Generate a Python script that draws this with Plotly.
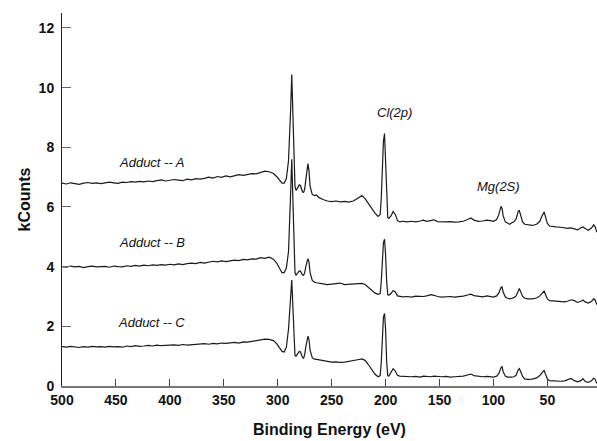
import plotly.graph_objects as go

# Shared binding-energy grid (eV), descending
energy = [
    500, 496, 492, 488, 484, 480, 476, 472, 468, 464,
    460, 456, 452, 448, 444, 440, 436, 432, 428, 424,
    420, 416, 412, 408, 404, 400, 396, 392, 388, 384,
    380, 376, 372, 368, 364, 360, 356, 352, 348, 344,
    340, 336, 332, 328, 324, 320, 316, 312, 308, 304,
    301, 298, 296, 294, 292, 290, 289, 288, 287, 286,
    285, 284, 283, 282, 281, 280, 279, 278, 277, 276,
    275, 274, 273, 272, 271, 270, 268, 266, 264, 262,
    258, 254, 250, 246, 242, 238, 234, 230, 226, 222,
    219, 216, 213, 210, 207, 205, 204, 203, 202, 201,
    200, 199, 198, 197, 195, 193, 191, 189, 187, 184,
    180, 176, 172, 168, 165, 162, 158, 155, 152, 148,
    144, 140, 136, 132, 128, 124, 121, 118, 114, 110,
    106, 103, 100, 97, 95, 93, 92, 91, 89, 87,
    85, 83, 81, 79, 77, 76, 75, 73, 71, 68,
    64, 60, 57, 55, 54, 53, 52, 50, 48, 45,
    42, 38, 34, 31, 28, 25, 22, 19, 17, 15,
    12, 9, 7, 6, 5, 4,
]

adduct_a = [
    6.80, 6.77, 6.81, 6.79, 6.76, 6.80, 6.82, 6.79, 6.81, 6.78,
    6.80, 6.83, 6.81, 6.79, 6.83, 6.82, 6.85, 6.83, 6.86, 6.84,
    6.87, 6.85, 6.88, 6.91, 6.87, 6.89, 6.92, 6.90, 6.88, 6.93,
    6.91, 6.95, 6.93, 6.96, 7.00, 6.97, 7.02, 6.99, 7.04, 7.01,
    7.05, 7.08, 7.06, 7.10, 7.12, 7.11, 7.16, 7.20, 7.18, 7.12,
    7.02, 6.90, 6.80, 6.80, 6.95, 7.55, 8.30, 9.30, 10.44, 9.00,
    7.60, 6.70, 6.55, 6.60, 6.68, 6.74, 6.72, 6.60, 6.50, 6.49,
    6.60, 6.90, 7.30, 7.45, 7.20, 6.70, 6.42, 6.38, 6.40, 6.32,
    6.25, 6.20, 6.18, 6.20, 6.17, 6.19, 6.16, 6.20, 6.28, 6.38,
    6.28, 6.12, 5.95, 5.80, 5.68, 5.75, 6.30, 7.30, 8.20, 8.46,
    7.60, 6.20, 5.65, 5.62, 5.70, 5.85, 5.75, 5.55, 5.50, 5.52,
    5.50, 5.52, 5.50, 5.53, 5.56, 5.52, 5.55, 5.57, 5.51, 5.50,
    5.50, 5.51, 5.49, 5.50, 5.52, 5.58, 5.63, 5.56, 5.52, 5.53,
    5.56, 5.54, 5.52, 5.58, 5.75, 6.02, 5.95, 5.70, 5.50, 5.46,
    5.42, 5.47, 5.50, 5.60, 5.85, 5.88, 5.75, 5.50, 5.42, 5.40,
    5.38, 5.42, 5.52, 5.70, 5.80, 5.83, 5.70, 5.45, 5.36, 5.34,
    5.33, 5.32, 5.30, 5.28, 5.30, 5.27, 5.23, 5.30, 5.33, 5.28,
    5.22, 5.30, 5.40, 5.35, 5.25, 5.15,
]

adduct_b = [
    4.00, 3.98, 4.02, 3.99, 4.01, 3.97, 4.00, 4.02, 3.99, 4.00,
    4.01, 3.98, 4.02, 4.00, 3.99, 4.03, 4.01, 4.04, 4.02, 4.05,
    4.03, 4.06, 4.04, 4.07, 4.05, 4.08, 4.06, 4.09, 4.07, 4.10,
    4.12, 4.10, 4.14, 4.12, 4.15, 4.18, 4.16, 4.19, 4.17, 4.20,
    4.22, 4.20, 4.24, 4.23, 4.26, 4.25, 4.30, 4.28, 4.32, 4.25,
    4.12, 3.92, 3.80, 3.80, 3.95, 4.50, 5.30, 6.50, 7.60, 6.20,
    4.50, 3.80, 3.72, 3.76, 3.82, 3.86, 3.85, 3.78, 3.72, 3.71,
    3.80, 4.00, 4.20, 4.27, 4.15, 3.80, 3.54, 3.48, 3.46, 3.44,
    3.42, 3.40, 3.41, 3.43, 3.45, 3.40, 3.41, 3.42, 3.43, 3.44,
    3.40, 3.30, 3.20, 3.12, 3.07, 3.10, 3.50, 4.20, 4.80, 4.92,
    4.40, 3.50, 3.06, 3.04, 3.10, 3.20, 3.15, 3.02, 3.00, 2.99,
    3.00, 2.98, 3.01, 2.99, 3.00, 3.02, 3.06, 3.04, 3.00, 2.98,
    2.99, 3.00, 2.98, 2.99, 3.01, 3.05, 3.08, 3.03, 3.00, 2.99,
    3.02, 3.00, 2.98, 3.02, 3.12, 3.30, 3.32, 3.15, 2.98, 2.94,
    2.92, 2.94, 2.96, 3.02, 3.22, 3.27, 3.18, 3.00, 2.94, 2.92,
    2.92, 2.95, 3.02, 3.12, 3.17, 3.19, 3.08, 2.92, 2.86, 2.85,
    2.84, 2.83, 2.82, 2.85, 2.89, 2.86, 2.80, 2.84, 2.88, 2.82,
    2.78, 2.84, 2.92, 2.90, 2.80, 2.72,
]

adduct_c = [
    1.32, 1.30, 1.33, 1.31, 1.29, 1.32, 1.30, 1.33, 1.31, 1.32,
    1.30, 1.33, 1.31, 1.32, 1.30, 1.34, 1.32, 1.35, 1.33, 1.34,
    1.36, 1.34, 1.37, 1.35, 1.36, 1.35, 1.38, 1.36, 1.39, 1.37,
    1.38, 1.40, 1.39, 1.42, 1.40, 1.43, 1.41, 1.44, 1.43, 1.45,
    1.46, 1.44, 1.48, 1.47, 1.50, 1.51, 1.55, 1.57, 1.56, 1.52,
    1.42, 1.25, 1.16, 1.14, 1.30, 1.90, 2.60, 3.20, 3.55, 2.70,
    1.50, 1.02, 1.00, 1.05, 1.12, 1.16, 1.15, 1.05, 0.96, 0.93,
    1.05, 1.30, 1.55, 1.67, 1.55, 1.20, 0.95, 0.90, 0.89, 0.88,
    0.84, 0.82, 0.80, 0.81, 0.79, 0.80, 0.82, 0.84, 0.88, 0.91,
    0.86, 0.72, 0.55, 0.40, 0.31, 0.35, 0.80, 1.60, 2.30, 2.43,
    1.90, 0.80, 0.34, 0.33, 0.45, 0.58, 0.50, 0.36, 0.33, 0.32,
    0.33, 0.31, 0.32, 0.30, 0.33, 0.32, 0.31, 0.33, 0.32, 0.31,
    0.32, 0.30, 0.31, 0.32, 0.33, 0.37, 0.40, 0.35, 0.32, 0.31,
    0.32, 0.31, 0.30, 0.33, 0.42, 0.62, 0.65, 0.48, 0.33, 0.30,
    0.29, 0.30, 0.31, 0.36, 0.54, 0.58, 0.50, 0.32, 0.24, 0.22,
    0.23, 0.27, 0.35, 0.46, 0.52, 0.53, 0.42, 0.24, 0.18, 0.17,
    0.17, 0.16, 0.17, 0.20, 0.25, 0.18, 0.14, 0.18, 0.25, 0.15,
    0.12, 0.18, 0.26, 0.24, 0.15, 0.08,
]

x_ticks = [500, 450, 400, 350, 300, 250, 200, 150, 100, 50]
y_ticks = [0, 2, 4, 6, 8, 10, 12]

labels = ["Adduct -- A", "Adduct -- B", "Adduct -- C", "Cl(2p)", "Mg(2S)"]
label_x = [417, 417, 417, 192, 95]
label_y = [7.48, 4.80, 2.14, 9.17, 6.69]

FONT = "Liberation Sans, Arial, sans-serif"

fig = go.Figure()
for ys in (adduct_a, adduct_b, adduct_c):
    fig.add_trace(go.Scatter(x=energy, y=ys, mode="lines",
                             line=dict(color="#1a1a1a", width=1.2),
                             showlegend=False, hoverinfo="skip"))

for t, xx, yy in zip(labels, label_x, label_y):
    fig.add_annotation(x=xx, y=yy, xref="x", yref="y", text=t, showarrow=False,
                       font=dict(family=FONT, size=13, color="#111", style="italic"))

fig.update_layout(
    width=597, height=441,
    margin=dict(l=62, r=0, t=13, b=55),
    paper_bgcolor="white", plot_bgcolor="white",
    font=dict(family=FONT, color="#111"),
)
fig.update_xaxes(
    range=[500, 4], tickvals=x_ticks, ticktext=[str(v) for v in x_ticks],
    showgrid=False, zeroline=False, showline=True, linecolor="#777", linewidth=2,
    ticks="inside", ticklen=7, tickwidth=1, tickcolor="#444",
    tickfont=dict(family=FONT, size=14, color="#111", weight="bold"),
    title=dict(text="<b>Binding Energy (eV)</b>", font=dict(family=FONT, size=16, color="#111"),
               standoff=17),
    automargin=False,
)
fig.update_yaxes(
    range=[0, 12.5], tickvals=y_ticks, ticktext=[str(v) for v in y_ticks],
    showgrid=False, zeroline=False, showline=True, linecolor="#222", linewidth=1,
    ticks="inside", ticklen=9, tickwidth=1, tickcolor="#666",
    tickfont=dict(family=FONT, size=14, color="#111", weight="bold"),
    ticklabelstandoff=4,
    title=dict(text="<b>kCounts</b>", font=dict(family=FONT, size=16, color="#111"),
               standoff=4),
    automargin=False,
)

fig.write_html("out.html", config={"displayModeBar": False},
               post_script="document.body.style.margin='0';")
